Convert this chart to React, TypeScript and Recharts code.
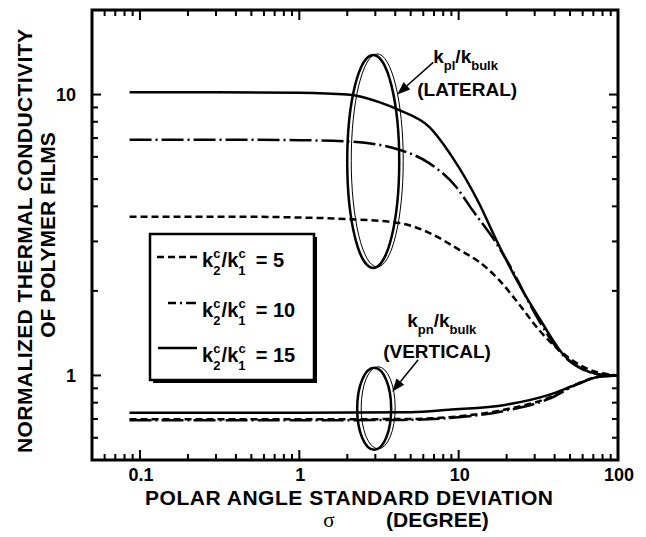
import React from 'react';
import { LineChart, Line, XAxis, YAxis, Legend, ReferenceDot, ReferenceArea } from 'recharts';

const FONT = '"Liberation Sans", Arial, Helvetica, sans-serif';

// polar angle standard deviation (deg) and normalized conductivity
const latSigma5 = [0.086, 0.5, 1, 2.06, 4.24, 6.53, 10.1, 13.4, 17.9, 24, 32, 42.8, 65.8, 100];
const latK5 = [3.67, 3.67, 3.65, 3.6, 3.49, 3.22, 2.8, 2.54, 2.19, 1.79, 1.45, 1.23, 1.05, 1.0];

const latSigma10 = [0.086, 0.5, 1, 2.06, 4.24, 6.53, 9.65, 12.2, 17.2, 22.9, 26.5, 33.4, 44.6, 65.8, 88, 100];
const latK10 = [6.9, 6.9, 6.88, 6.8, 6.36, 5.7, 4.69, 3.88, 2.96, 2.24, 1.9, 1.5, 1.19, 1.03, 1.0, 1.0];

const latSigma15 = [0.086, 0.3, 1, 2, 3.17, 4.24, 6.53, 9.1, 13.4, 17.2, 25, 33.4, 44.6, 65.8, 88, 100];
const latK15 = [10.2, 10.2, 10.15, 10.0, 9.4, 8.8, 7.67, 6.0, 4.11, 3.04, 2.02, 1.54, 1.2, 1.03, 1.0, 1.0];

const vertSigma = [0.086, 1, 5, 8.7, 19.9, 36.8, 54.5, 76, 100];
const vertK5 = [0.698, 0.698, 0.7, 0.71, 0.758, 0.833, 0.93, 0.99, 1.0];
const vertK10 = [0.692, 0.692, 0.695, 0.705, 0.75, 0.825, 0.925, 0.99, 1.0];
const vertK15 = [0.736, 0.736, 0.74, 0.755, 0.787, 0.853, 0.927, 0.99, 1.0];

const ratios = [5, 10, 15];
const dashes = ['7 4', '22 4 2 4', undefined];

const xMajor = [0.1, 1, 10, 100];
const xMajorLabels = ['0.1', '1', '10', '100'];
const xMinor = [0.06, 0.07, 0.08, 0.09, 0.2, 0.3, 0.4, 0.5, 0.6, 0.7, 0.8, 0.9, 2, 3, 4, 5, 6, 7, 8, 9, 20, 30, 40, 50, 60, 70, 80, 90];
const yMajor = [1, 10];
const yMajorLabels = ['1', '10'];
const yMinor = [0.6, 0.7, 0.8, 0.9, 2, 3, 4, 5, 6, 7, 8, 9];

const X_DOMAIN = [0.05, 100];
const Y_DOMAIN = [0.5, 20];

const pts = (s: number[], k: number[]) => s.map((v, i) => ({ s: v, k: k[i] }));

const series = [
  { id: 'lat5', data: pts(latSigma5, latK5), dash: dashes[0] },
  { id: 'lat10', data: pts(latSigma10, latK10), dash: dashes[1] },
  { id: 'lat15', data: pts(latSigma15, latK15), dash: dashes[2] },
  { id: 'vert5', data: pts(vertSigma, vertK5), dash: dashes[0] },
  { id: 'vert10', data: pts(vertSigma, vertK10), dash: dashes[1] },
  { id: 'vert15', data: pts(vertSigma, vertK15), dash: dashes[2] },
];

const logFrac = (v: number, d: number[]) => (Math.log(v) - Math.log(d[0])) / (Math.log(d[1]) - Math.log(d[0]));

const XLabel = (props: any) => {
  const { x, y, payload } = props;
  const idx = xMajor.indexOf(payload.value);
  if (idx < 0) return <g />;
  return (
    <text x={x + 1} y={y + 21} textAnchor="middle" fontFamily={FONT} fontWeight="bold" fontSize={18} fill="#000">
      {xMajorLabels[idx]}
    </text>
  );
};

const YLabel = (props: any) => {
  const { x, y, payload } = props;
  const idx = yMajor.indexOf(payload.value);
  if (idx < 0) return <g />;
  return (
    <text x={x - 16} y={y + 6.5} textAnchor="end" fontFamily={FONT} fontWeight="bold" fontSize={18} fill="#000">
      {yMajorLabels[idx]}
    </text>
  );
};

const XTitle = (props: any) => {
  const vb = props.viewBox || { x: 92, y: 460, width: 526 };
  const cx = vb.x + vb.width / 2;
  return (
    <g fill="#000">
      <text x={cx - 6} y={vb.y + 45} textAnchor="middle" fontFamily={FONT} fontWeight="bold" fontSize={21}
        textLength={408} lengthAdjust="spacing">
        POLAR ANGLE STANDARD DEVIATION
      </text>
      <text x={cx - 26} y={vb.y + 67} textAnchor="middle" fontFamily='"Liberation Serif", serif' fontSize={21}>σ</text>
      <text x={cx + 31} y={vb.y + 67} textAnchor="start" fontFamily={FONT} fontWeight="bold" fontSize={21}>(DEGREE)</text>
    </g>
  );
};

const YTitle = () => (
  <g fill="#000" fontFamily={FONT} fontWeight="bold" fontSize={21}>
    <text transform="translate(32,241) rotate(-90)" textAnchor="middle" textLength={424} lengthAdjust="spacing">
      NORMALIZED THERMAL CONDUCTIVITY
    </text>
    <text transform="translate(55,235) rotate(-90)" textAnchor="middle">OF POLYMER FILMS</text>
  </g>
);

const Arrow = ({ x1, y1, x2, y2 }: any) => {
  const dx = x2 - x1;
  const dy = y2 - y1;
  const L = Math.hypot(dx, dy);
  const ux = dx / L;
  const uy = dy / L;
  const hl = 13;
  const hw = 5;
  const bx = x2 - ux * hl;
  const by = y2 - uy * hl;
  return (
    <g>
      <line x1={x1} y1={y1} x2={bx} y2={by} stroke="#000" strokeWidth={1.5} />
      <polygon
        points={`${x2},${y2} ${bx - uy * hw},${by + ux * hw} ${bx + uy * hw},${by - ux * hw}`}
        fill="#000"
      />
    </g>
  );
};

const Ring = ({ cx, cy, rx, ry }: any) => (
  <g fill="none" stroke="#000">
    <ellipse cx={cx + 4} cy={cy - 1} rx={rx} ry={ry} strokeWidth={1} />
    <ellipse cx={cx} cy={cy} rx={rx} ry={ry} strokeWidth={2.5} />
  </g>
);

const LateralMark = (props: any) => {
  const { cx, cy } = props;
  return (
    <g>
      <Ring cx={cx} cy={cy} rx={26} ry={106.5} />
      <Arrow x1={cx + 60} y1={cy - 99} x2={cx + 24} y2={cy - 67} />
      <g fontFamily={FONT} fontWeight="bold" fill="#000">
        <text x={cx + 60} y={cy - 98.5} fontSize={19}>
          k<tspan fontSize={13} dy={7}>pl</tspan>
          <tspan fontSize={19} dy={-7}>/k</tspan>
          <tspan fontSize={13} dy={7}>bulk</tspan>
        </text>
        <text x={cx + 44} y={cy - 65.5} fontSize={19}>(LATERAL)</text>
      </g>
    </g>
  );
};

const VerticalMark = (props: any) => {
  const { cx, cy } = props;
  return (
    <g>
      <Ring cx={cx} cy={cy} rx={17} ry={41} />
      <Arrow x1={cx + 44} y1={cy - 49} x2={cx + 18} y2={cy - 17} />
      <g fontFamily={FONT} fontWeight="bold" fill="#000">
        <text x={cx + 33} y={cy - 82} fontSize={19}>
          k<tspan fontSize={13} dy={7}>pn</tspan>
          <tspan fontSize={19} dy={-7}>/k</tspan>
          <tspan fontSize={13} dy={7}>bulk</tspan>
        </text>
        <text x={cx + 9} y={cy - 51} fontSize={19}>(VERTICAL)</text>
      </g>
    </g>
  );
};

const LegendBox = () => {
  const rows = [
    { y: 25, x1: 9, x2: 49, base: 35 },
    { y: 71, x1: 20, x2: 48, base: 85 },
    { y: 116, x1: 10, x2: 49, base: 130 },
  ];
  return (
    <svg width={172} height={156} style={{ display: 'block' }}>
      <rect x={5} y={5} width={164} height={146} fill="#000" />
      <rect x={2} y={2} width={164} height={146} fill="#fff" stroke="#000" strokeWidth={2.5} />
      {ratios.map((r, i) => (
        <g key={r}>
          <line x1={rows[i].x1} x2={rows[i].x2} y1={rows[i].y} y2={rows[i].y} stroke="#000" strokeWidth={2.5}
            strokeDasharray={dashes[i]} strokeDashoffset={i === 1 ? 14 : 0} />
          <text x={54} y={rows[i].base} fontFamily={FONT} fontWeight="bold" fontSize={20} fill="#000">
            k<tspan fontSize={13} dy={8}>2</tspan>
            <tspan fontSize={13} dx={-7} dy={-17}>c</tspan>
            <tspan fontSize={20} dx={1} dy={9}>/k</tspan>
            <tspan fontSize={13} dy={8}>1</tspan>
            <tspan fontSize={13} dx={-7} dy={-17}>c</tspan>
            <tspan fontSize={20} dx={10} dy={9}>{`= ${r}`}</tspan>
          </text>
        </g>
      ))}
    </svg>
  );
};

// plot frame with inward ticks on all four sides, placed on the same log domains as the axes
const Frame = (props: any) => {
  const x = Number(props.x);
  const y = Number(props.y);
  const width = Number(props.width);
  const height = Number(props.height);
  const lines: any[] = [];
  [...xMajor, ...xMinor].forEach((t, i) => {
    const len = xMajor.includes(t) ? 10 : 6;
    const px = x + width * logFrac(t, X_DOMAIN);
    lines.push(<line key={`xb${i}`} x1={px} x2={px} y1={y + height} y2={y + height - len} />);
    lines.push(<line key={`xt${i}`} x1={px} x2={px} y1={y} y2={y + len} />);
  });
  [...yMajor, ...yMinor].forEach((t, i) => {
    const len = yMajor.includes(t) ? 9 : 6;
    const py = y + height - height * logFrac(t, Y_DOMAIN);
    lines.push(<line key={`yl${i}`} x1={x} x2={x + len} y1={py} y2={py} />);
    lines.push(<line key={`yr${i}`} x1={x + width} x2={x + width - len} y1={py} y2={py} />);
  });
  return (
    <g>
      <g stroke="#000" strokeWidth={2} strokeOpacity={1}>{lines}</g>
      <rect x={x} y={y} width={width} height={height} fill="none" stroke="#000" strokeWidth={3} />
    </g>
  );
};

export default function App() {
  return (
    <div style={{ position: 'absolute', left: 0, top: 0, width: 646, height: 537, background: '#fff' }}>
      <LineChart width={646} height={537} margin={{ top: 10, right: 28, bottom: 0, left: 0 }}>
        <XAxis
          dataKey="s"
          type="number"
          scale="log"
          domain={X_DOMAIN}
          allowDataOverflow
          ticks={xMajor}
          interval={0}
          height={77}
          tickSize={0}
          tickMargin={0}
          axisLine={false}
          tickLine={false}
          tick={<XLabel />}
          label={{ content: (p: any) => <XTitle {...p} /> }}
        />
        <YAxis
          dataKey="k"
          type="number"
          scale="log"
          domain={Y_DOMAIN}
          allowDataOverflow
          ticks={yMajor}
          interval={0}
          width={92}
          tickSize={0}
          tickMargin={0}
          axisLine={false}
          tickLine={false}
          tick={<YLabel />}
          label={{ content: () => <YTitle /> }}
        />
        {series.map((sr) => (
          <Line
            key={sr.id}
            data={sr.data}
            dataKey="k"
            type="monotone"
            stroke="#000"
            strokeWidth={2.5}
            strokeDasharray={sr.dash}
            dot={false}
            activeDot={false}
            legendType="none"
            isAnimationActive={false}
          />
        ))}
        <ReferenceArea
          x1={X_DOMAIN[0]}
          x2={X_DOMAIN[1]}
          y1={Y_DOMAIN[0]}
          y2={Y_DOMAIN[1]}
          ifOverflow="visible"
          shape={(p: any) => <Frame {...p} />}
        />
        <ReferenceDot x={2.91} y={5.78} r={0} shape={(p: any) => <LateralMark {...p} />} />
        <ReferenceDot x={2.95} y={0.761} r={0} shape={(p: any) => <VerticalMark {...p} />} />
        <Legend
          layout="horizontal"
          align="center"
          verticalAlign="middle"
          wrapperStyle={{ left: 148, top: 232, width: 172, height: 156 }}
          content={() => <LegendBox />}
        />
      </LineChart>
    </div>
  );
}
